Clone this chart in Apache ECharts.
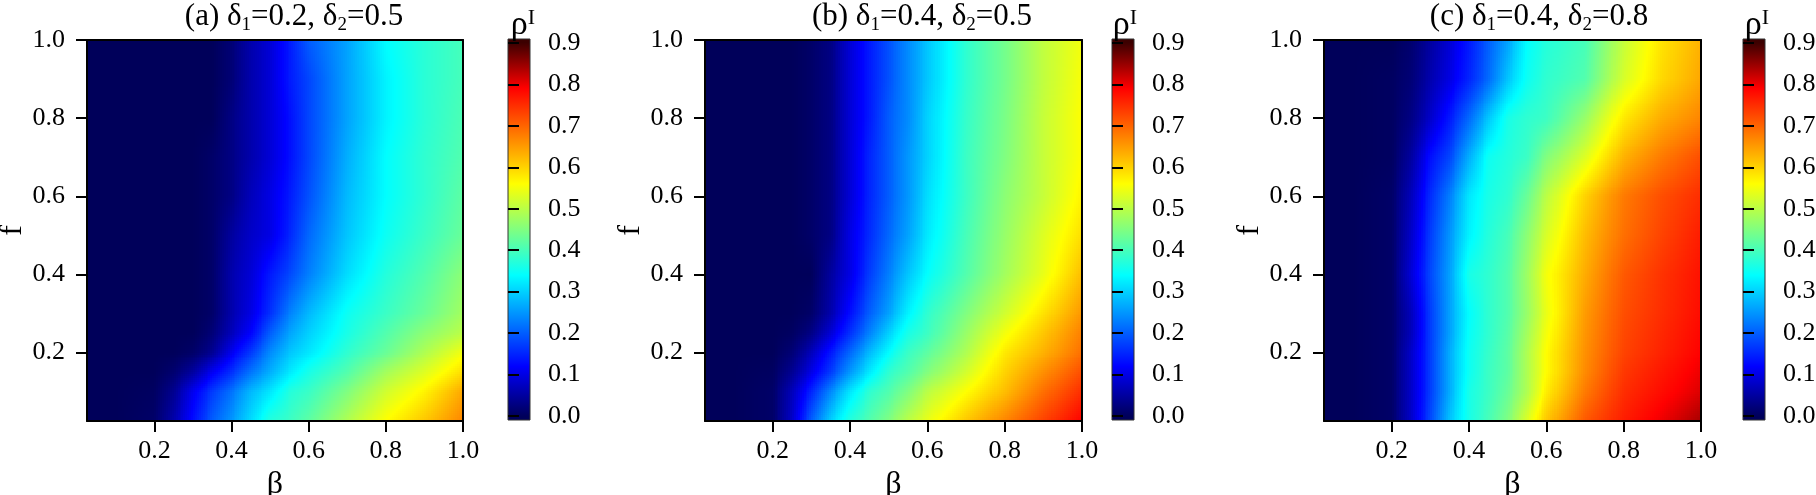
<!DOCTYPE html>
<html><head><meta charset="utf-8">
<style>html,body{margin:0;padding:0;background:#fff}#c{width:1816px;height:495px}</style>
<script src="https://cdn.jsdelivr.net/npm/echarts@6/dist/echarts.min.js"></script>
</head><body><div id="c"></div>
<script>
const betas = [.025,.1,.2,.25,.3,.35,.4,.45,.5,.55,.6,.7,.8,.9,1];
const fs = [.025,.1,.15,.2,.25,.3,.4,.5,.6,.7,.8,.9,1];
const xTicks = [.2,.4,.6,.8,1];
const yTicks = [.2,.4,.6,.8,1];
const barTicks = [0,.1,.2,.3,.4,.5,.6,.7,.8,.9];
const stopValues = [0,.12,.34,.45,.56,.79,.9];
const stopColors = [[0,0,90],[0,0,255],[0,255,255],[128,255,128],[255,255,0],[255,0,0],[60,0,0]];
const titles = ['{t|(a) δ}{s|1}{t|=0.2, δ}{s|2}{t|=0.5}','{t|(b) δ}{s|1}{t|=0.4, δ}{s|2}{t|=0.5}','{t|(c) δ}{s|1}{t|=0.4, δ}{s|2}{t|=0.8}'];
const panelA = [
[0,0,.01,.06,.13,.2,.25,.31,.37,.39,.42,.49,.56,.61,.67],
[0,0,.005,.04,.11,.17,.22,.28,.32,.37,.39,.45,.52,.57,.64],
[0,0,0,.015,.05,.11,.16,.22,.27,.32,.36,.41,.48,.53,.59],
[0,0,0,0,.01,.04,.11,.17,.24,.29,.32,.38,.43,.49,.55],
[0,0,0,0,0,.02,.07,.12,.2,.26,.3,.36,.41,.46,.5],
[0,0,0,0,0,.01,.06,.1,.16,.23,.28,.35,.39,.43,.48],
[0,0,0,0,0,.01,.06,.09,.14,.18,.23,.31,.37,.41,.46],
[0,0,0,0,0,.01,.05,.08,.1,.15,.21,.29,.35,.39,.43],
[0,0,0,0,0,.01,.03,.07,.1,.14,.19,.28,.34,.38,.42],
[0,0,0,0,0,.01,.03,.06,.09,.13,.18,.27,.34,.38,.41],
[0,0,0,0,0,0,.03,.06,.09,.13,.18,.26,.33,.375,.405],
[0,0,0,0,0,0,.02,.06,.09,.14,.18,.26,.33,.375,.4],
[0,0,0,0,0,0,.02,.06,.09,.14,.2,.26,.34,.375,.4]];
const panelB = [
[0,0,.01,.08,.2,.3,.37,.41,.45,.5,.54,.61,.67,.73,.79],
[0,0,.01,.07,.15,.24,.32,.38,.41,.45,.5,.56,.62,.69,.75],
[0,0,.005,.04,.1,.17,.25,.32,.38,.41,.45,.52,.6,.66,.72],
[0,0,0,.02,.07,.14,.21,.28,.34,.39,.42,.49,.58,.63,.69],
[0,0,0,.005,.03,.09,.16,.23,.3,.36,.39,.47,.55,.61,.675],
[0,0,0,0,.01,.06,.13,.2,.26,.33,.38,.45,.52,.585,.655],
[0,0,0,0,0,.05,.1,.17,.23,.29,.34,.41,.48,.54,.62],
[0,0,0,0,.01,.03,.1,.155,.21,.26,.32,.4,.47,.53,.59],
[0,0,0,0,.01,.03,.09,.15,.2,.25,.31,.39,.46,.51,.57],
[0,0,0,0,.01,.03,.09,.15,.2,.25,.3,.39,.45,.51,.56],
[0,0,0,0,.01,.03,.09,.14,.2,.24,.3,.385,.445,.51,.56],
[0,0,0,0,.01,.03,.09,.14,.19,.24,.29,.38,.44,.505,.555],
[0,0,0,0,.01,.03,.09,.14,.19,.24,.29,.38,.44,.505,.55]];
const panelC = [
[0,0,.01,.08,.18,.29,.36,.4,.45,.53,.61,.71,.765,.8,.84],
[0,0,.01,.08,.17,.27,.36,.39,.43,.49,.575,.68,.75,.78,.81],
[0,0,.01,.08,.17,.27,.35,.39,.42,.49,.56,.665,.74,.77,.8],
[0,0,.01,.08,.17,.27,.35,.385,.42,.49,.56,.66,.73,.76,.79],
[0,0,.01,.07,.17,.26,.345,.38,.415,.48,.55,.655,.725,.755,.785],
[0,0,.01,.07,.17,.26,.34,.38,.41,.47,.54,.65,.72,.75,.78],
[0,0,.01,.09,.18,.26,.36,.38,.41,.475,.55,.635,.71,.745,.775],
[0,0,.01,.08,.17,.25,.33,.37,.4,.46,.525,.62,.69,.73,.765],
[0,0,.01,.07,.155,.23,.32,.36,.38,.43,.5,.6,.68,.72,.75],
[0,0,.005,.05,.13,.18,.27,.35,.37,.39,.45,.53,.63,.68,.72],
[0,0,.005,.03,.08,.14,.21,.29,.36,.38,.39,.47,.58,.635,.67],
[0,0,.005,.02,.06,.1,.15,.21,.29,.35,.38,.41,.525,.595,.64],
[0,0,0,.015,.05,.09,.14,.2,.26,.34,.37,.4,.51,.585,.63]];
const panels = [panelA,panelB,panelC];
const layout = [
 {l:87,r:463,cl:508,cr:530,tx:289,rx:518},
 {l:705,r:1082,cl:1112,cr:1134,tx:917,rx:1120},
 {l:1324,r:1701,cl:1743,cr:1765,tx:1534,rx:1752}];
const T=40,B=421;
const FONT='"Liberation Serif","Times New Roman",serif';

function colorOf(v){
  const n=stopValues.length;
  if(v<=stopValues[0]) return stopColors[0];
  for(let i=1;i<n;i++){ if(v<=stopValues[i]){
    const t=(v-stopValues[i-1])/(stopValues[i]-stopValues[i-1]);
    const a=stopColors[i-1],b=stopColors[i];
    return [a[0]+(b[0]-a[0])*t,a[1]+(b[1]-a[1])*t,a[2]+(b[2]-a[2])*t];
  }}
  return stopColors[n-1];
}
function css(c){return 'rgb('+Math.round(c[0])+','+Math.round(c[1])+','+Math.round(c[2])+')';}

const renderCell=(params,api)=>{
  const x0=api.value(0),y0=api.value(1),x1=api.value(2),y1=api.value(3);
  const v00=api.value(4),v10=api.value(5),v01=api.value(6),v11=api.value(7);
  const a=api.coord([x0,y1]),b=api.coord([x1,y0]);
  const STEP=2, nx=Math.max(1,Math.round((b[0]-a[0])/STEP)), ny=Math.max(1,Math.round((b[1]-a[1])/STEP));
  const children=[];
  for(let i=0;i<nx;i++){
    const u=(i+.5)/nx, px0=Math.round(a[0]+(b[0]-a[0])*i/nx), px1=Math.round(a[0]+(b[0]-a[0])*(i+1)/nx);
    for(let j=0;j<ny;j++){
      const w=1-(j+.5)/ny, py0=Math.round(a[1]+(b[1]-a[1])*j/ny), py1=Math.round(a[1]+(b[1]-a[1])*(j+1)/ny);
      const v=(v00*(1-u)+v10*u)*(1-w)+(v01*(1-u)+v11*u)*w;
      children.push({type:'rect',shape:{x:px0,y:py0,width:px1-px0,height:py1-py0},style:{fill:css(colorOf(v))},silent:true});
    }
  }
  return {type:'group',children};
};

const grid=[],xAxis=[],yAxis=[],series=[],title=[];
const fmt=v=>v.toFixed(1);
panels.forEach((vals,p)=>{
  const L=layout[p], gi=grid.length;
  grid.push({left:L.l,width:L.r-L.l,top:T,height:B-T,outerBoundsMode:'none'});
  const ax={min:.025,max:1,type:'value',gridIndex:gi,splitLine:{show:false},z:5};
  const line={show:true,onZero:false,lineStyle:{color:'#000',width:2}};
  const tick={show:true,length:11,lineStyle:{color:'#000',width:2}};
  const bi=xAxis.length;
  xAxis.push(Object.assign({},ax,{position:'bottom',axisLine:line,
    axisTick:Object.assign({},tick,{customValues:xTicks}),
    axisLabel:{customValues:xTicks,formatter:fmt,fontFamily:FONT,fontSize:26,color:'#000',margin:17},
    name:'β',nameLocation:'middle',nameGap:44,nameTextStyle:{fontFamily:FONT,fontSize:32,color:'#000'}}));
  xAxis.push(Object.assign({},ax,{position:'top',axisLine:line,axisTick:{show:false},axisLabel:{show:false}}));
  const yi=yAxis.length;
  yAxis.push(Object.assign({},ax,{position:'left',axisLine:line,
    axisTick:Object.assign({},tick,{customValues:yTicks}),
    axisLabel:{customValues:yTicks,formatter:fmt,fontFamily:FONT,fontSize:26,color:'#000',margin:22},
    name:'f',nameLocation:'middle',nameGap:53,nameTextStyle:{fontFamily:FONT,fontSize:32,color:'#000'}}));
  yAxis.push(Object.assign({},ax,{position:'right',axisLine:line,axisTick:{show:false},axisLabel:{show:false}}));
  const cells=[];
  for(let j=0;j<fs.length-1;j++) for(let i=0;i<betas.length-1;i++)
    cells.push([betas[i],fs[j],betas[i+1],fs[j+1],vals[j][i],vals[j][i+1],vals[j+1][i],vals[j+1][i+1]]);
  series.push({type:'custom',xAxisIndex:bi,yAxisIndex:yi,data:cells,renderItem:renderCell,encode:{x:[0,2],y:[1,3]},
    animation:false,silent:true,clip:true,progressive:0,z:2});

  // colour bar
  const gc=grid.length;
  grid.push({left:L.cl,width:L.cr-L.cl,top:T-1,height:B-T,outerBoundsMode:'none'});
  const cx=xAxis.length, cy=yAxis.length;
  xAxis.push({type:'value',gridIndex:gc,min:0,max:1,show:false});
  yAxis.push({type:'value',gridIndex:gc,min:-.01,max:.91,position:'right',splitLine:{show:false},z:5,
    axisLine:{show:false},
    axisTick:{show:true,length:11,customValues:barTicks,lineStyle:{color:'#000',width:2}},
    axisLabel:{customValues:barTicks,formatter:fmt,fontFamily:FONT,fontSize:26,color:'#000',margin:18}});
  const stops=stopValues.map((v,i)=>({offset:(v+.01)/.92,color:css(stopColors[i])}));
  stops.unshift({offset:0,color:css(stopColors[0])}); stops.push({offset:1,color:css(stopColors[stopColors.length-1])});
  series.push({type:'custom',xAxisIndex:cx,yAxisIndex:cy,data:[[0,-.01,1,.91]],encode:{x:[0,2],y:[1,3]},animation:false,silent:true,z:2,
    renderItem:(ps,api)=>{
      const a=api.coord([api.value(0),api.value(3)]),b=api.coord([api.value(2),api.value(1)]);
      return {type:'rect',shape:{x:a[0],y:a[1],width:b[0]-a[0],height:b[1]-a[1]},
        style:{fill:new echarts.graphic.LinearGradient(0,1,0,0,stops),stroke:'#333',lineWidth:1}};
    }});

  title.push({text:titles[p],left:L.tx,top:-6,textAlign:'center',
    textStyle:{fontFamily:FONT,fontSize:31,fontWeight:'normal',color:'#000',
      rich:{t:{fontFamily:FONT,fontSize:31,color:'#000',lineHeight:36},
            s:{fontFamily:FONT,fontSize:19,color:'#000',verticalAlign:'bottom',lineHeight:36,padding:[12,0,0,0]}}}});
  title.push({text:'{r|ρ}{i|I}',left:L.rx,top:2,textAlign:'center',
    textStyle:{fontFamily:FONT,fontSize:34,fontWeight:'normal',color:'#000',
      rich:{r:{fontFamily:FONT,fontSize:34,color:'#000',lineHeight:36},
            i:{fontFamily:FONT,fontSize:22,color:'#000',verticalAlign:'top',lineHeight:36,padding:[0,0,14,0]}}}});
});
const chart=echarts.init(document.getElementById('c'),null,{renderer:'canvas',width:1816,height:495});
chart.setOption({animation:false,backgroundColor:'#fff',title,grid,xAxis,yAxis,series});
</script></body></html>
